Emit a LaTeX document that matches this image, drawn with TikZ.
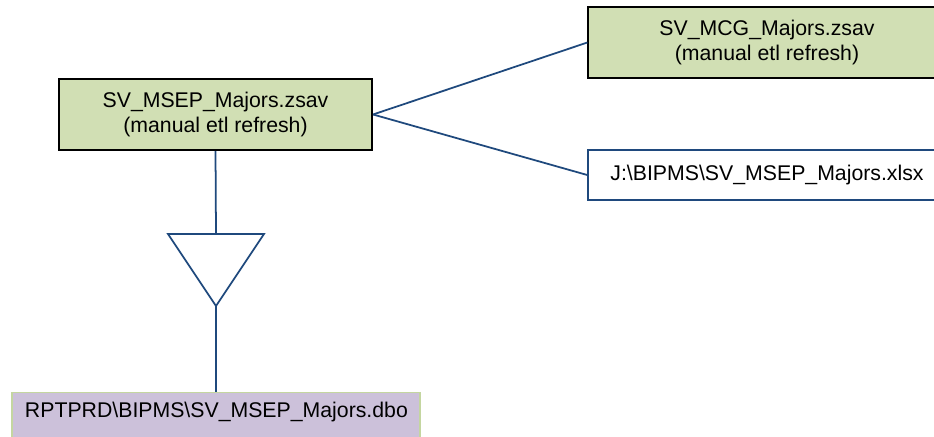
\documentclass[tikz,border=0pt]{standalone}
\usepackage{fontspec}
\setmainfont{Liberation Sans}
\usepackage{tikz}
\usetikzlibrary{positioning,calc}
\definecolor{colG}{RGB}{209,223,180}
\definecolor{colL}{RGB}{204,193,218}
\definecolor{colB}{RGB}{31,73,125}
\definecolor{colE}{RGB}{196,214,160}
\newcommand{\bs}{\textbackslash}

\begin{document}
\begin{tikzpicture}[
  x=0.2mm, y=-0.2mm,
  box/.style={
    rectangle, align=center, inner sep=2pt,
    font=\fontsize{12.1}{14.2}\selectfont
  },
  etl/.style={box, fill=colG, draw=black},
  link/.style={draw=colB, line width=1pt}
]
\clip (0,0) rectangle (934,437);

\node[etl, line width=1.2pt, minimum width=62.6mm, minimum height=14.2mm]
  (msep) at (215.5,114.5)
  {SV\_MSEP\_Majors.zsav\\(manual etl refresh)};
\node[etl, line width=0.7pt, minimum width=71.6mm, minimum height=14.2mm]
  (mcg) at (767,42.5)
  {SV\_MCG\_Majors.zsav\\(manual etl refresh)};
\node[box, fill=white, draw=colB, line width=0.9pt,
      minimum width=71.6mm, minimum height=10mm]
  (xlsx) at (767,175)
  {J:\bs BIPMS\bs SV\_MSEP\_Majors.xlsx};
\node[box, fill=colL, draw=colE, line width=0.6pt, anchor=north,
      text width=76.4mm, align=left, inner xsep=2.6mm, inner ysep=2.2mm,
      text height=8.2pt, text depth=6.6mm]
  (dbo) at (216,392)
  {RPTPRD\bs BIPMS\bs SV\_MSEP\_Majors.dbo};

% merge triangle
\coordinate (tritop) at (216,234);
\coordinate (triapex) at (216,306);
\draw[link] (168,234) -- (264,234) -- (triapex) -- cycle;

\draw[link] (msep.east) -- (mcg.west);
\draw[link] (msep.east) -- (xlsx.west);
\draw[link] (msep.south) -- (tritop);
\draw[link] (triapex) -- (dbo.north);

\end{tikzpicture}
\end{document}
